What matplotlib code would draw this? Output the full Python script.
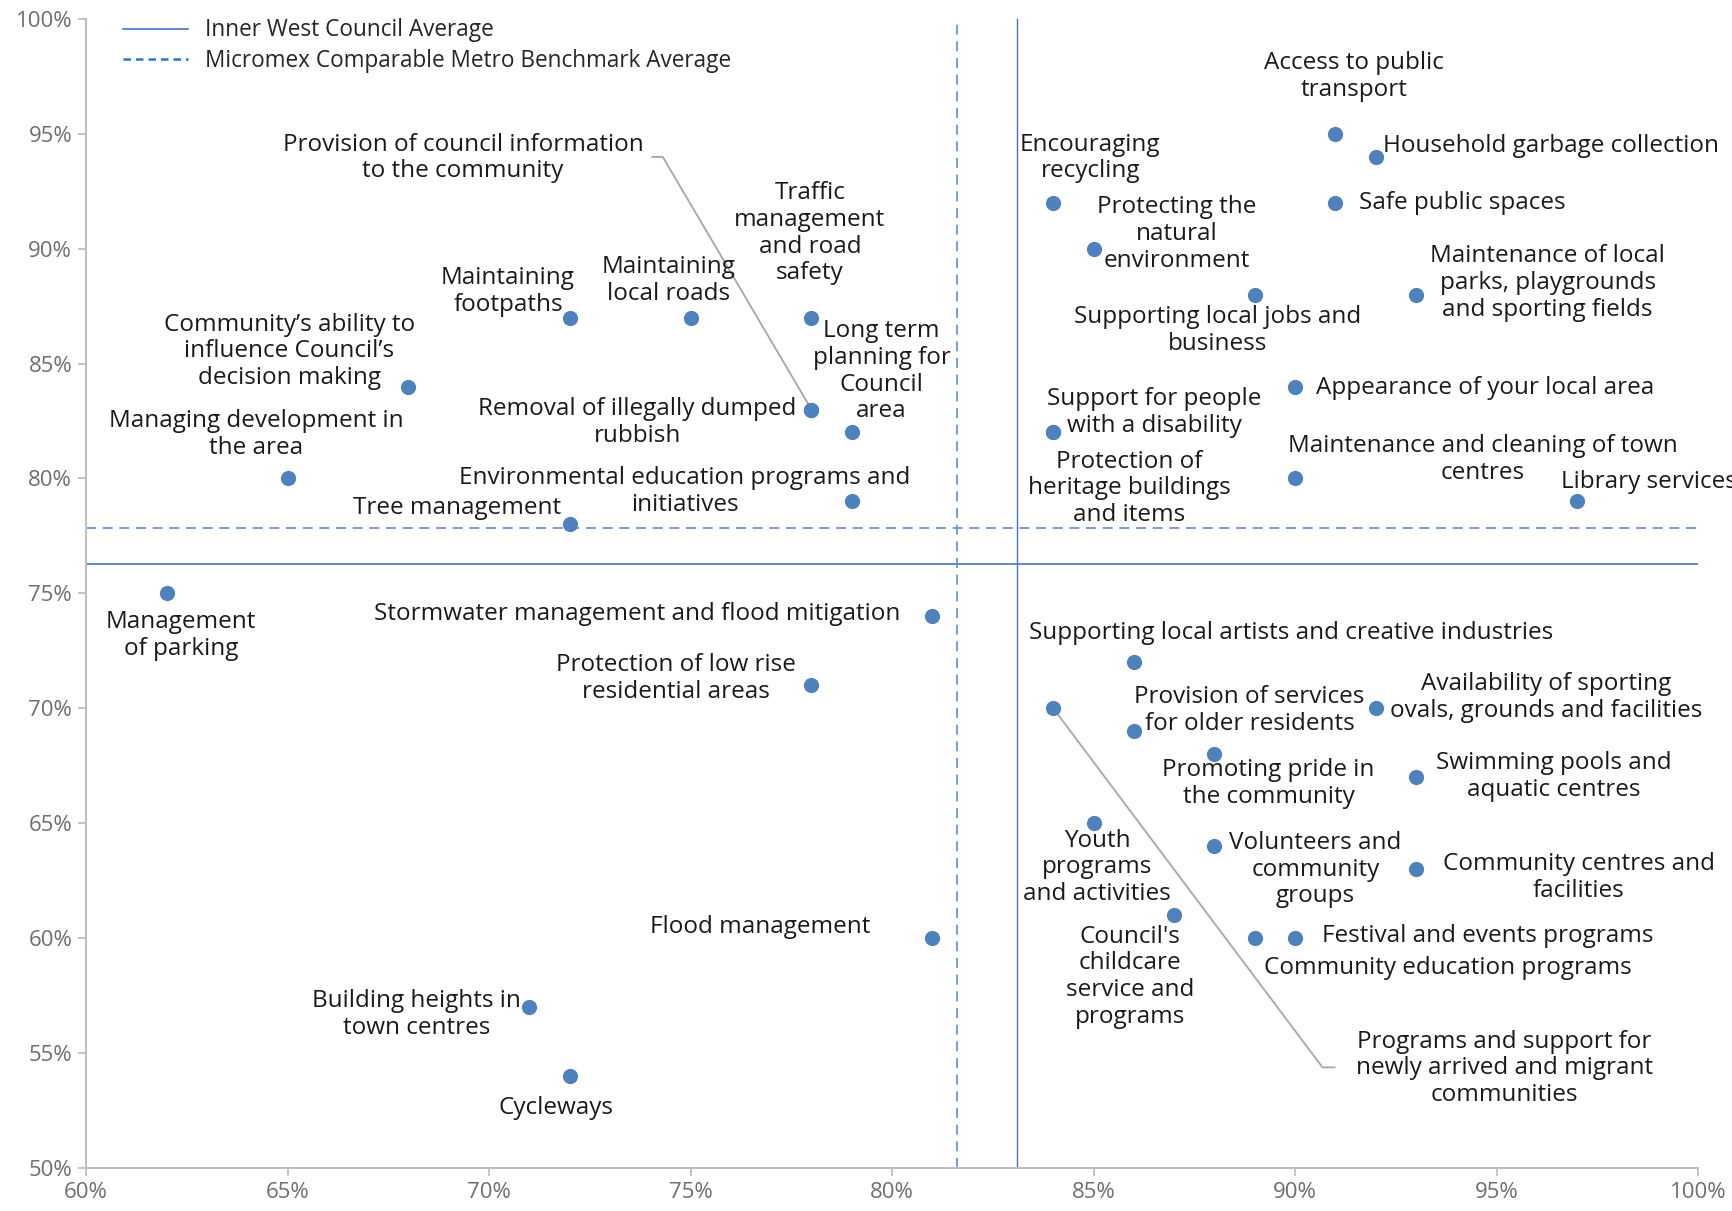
import matplotlib
matplotlib.use("Agg")
import matplotlib.pyplot as plt
from matplotlib.ticker import FuncFormatter
from matplotlib.lines import Line2D

plt.rcParams['font.family'] = ['Open Sans', 'DejaVu Sans']

# ---------------- data ----------------
services = [
    "Management of parking", "Managing development in the area",
    "Community's ability to influence Council's decision making",
    "Maintaining footpaths", "Maintaining local roads", "Traffic management and road safety",
    "Provision of council information to the community", "Removal of illegally dumped rubbish",
    "Long term planning for Council area", "Environmental education programs and initiatives",
    "Tree management", "Stormwater management and flood mitigation",
    "Protection of low rise residential areas", "Flood management",
    "Building heights in town centres", "Cycleways",
    "Encouraging recycling", "Protecting the natural environment",
    "Supporting local jobs and business", "Access to public transport",
    "Household garbage collection", "Safe public spaces",
    "Maintenance of local parks, playgrounds and sporting fields",
    "Appearance of your local area", "Support for people with a disability",
    "Protection of heritage buildings and items",
    "Maintenance and cleaning of town centres", "Library services",
    "Supporting local artists and creative industries",
    "Availability of sporting ovals, grounds and facilities",
    "Provision of services for older residents", "Promoting pride in the community",
    "Swimming pools and aquatic centres", "Youth programs and activities",
    "Volunteers and community groups", "Community centres and facilities",
    "Council's childcare service and programs", "Festival and events programs",
    "Community education programs",
    "Programs and support for newly arrived and migrant communities",
]
importance = [62, 65, 68, 72, 75, 78, 78, 78, 79, 79, 72, 81, 78, 81, 71, 72,
              84, 85, 89, 91, 92, 91, 93, 90, 84, 84, 90, 97, 86, 92, 86, 88,
              93, 85, 88, 93, 87, 90, 89, 84]
satisfaction = [75, 80, 84, 87, 87, 87, 83, 83, 82, 79, 78, 74, 71, 60, 57, 54,
                92, 90, 88, 95, 94, 92, 88, 84, 82, 82, 80, 79, 72, 70, 69, 68,
                67, 65, 64, 63, 61, 60, 60, 70]

council_avg_importance = 83.1
council_avg_satisfaction = 76.3
benchmark_avg_importance = 81.6
benchmark_avg_satisfaction = 77.85

x_ticks = [60, 65, 70, 75, 80, 85, 90, 95, 100]
y_ticks = [50, 55, 60, 65, 70, 75, 80, 85, 90, 95, 100]

# label text, position (data coords), alignment
label_text = [
    "Management\nof parking", "Managing development in\nthe area",
    "Community\u2019s ability to\ninfluence Council\u2019s\ndecision making",
    "Maintaining\nfootpaths", "Maintaining\nlocal roads", "Traffic\nmanagement\nand road\nsafety",
    "Provision of council information\nto the community", "Removal of illegally dumped\nrubbish",
    "Long term\nplanning for\nCouncil\narea", "Environmental education programs and\ninitiatives",
    "Tree management", "Stormwater management and flood mitigation",
    "Protection of low rise\nresidential areas", "Flood management",
    "Building heights in\ntown centres", "Cycleways",
    "Encouraging\nrecycling", "Protecting the\nnatural\nenvironment",
    "Supporting local jobs and\nbusiness", "Access to public\ntransport",
    "Household garbage collection", "Safe public spaces",
    "Maintenance of local\nparks, playgrounds\nand sporting fields",
    "Appearance of your local area", "Support for people\nwith a disability",
    "Protection of\nheritage buildings\nand items",
    "Maintenance and cleaning of town\ncentres", "Library services",
    "Supporting local artists and creative industries",
    "Availability of sporting\novals, grounds and facilities",
    "Provision of services\nfor older residents", "Promoting pride in\nthe community",
    "Swimming pools and\naquatic centres", "Youth\nprograms\nand activities",
    "Volunteers and\ncommunity\ngroups", "Community centres and\nfacilities",
    "Council's\nchildcare\nservice and\nprograms", "Festival and events programs",
    "Community education programs",
    "Programs and support for\nnewly arrived and migrant\ncommunities",
]
label_pos = [
    (62.36, 73.17, 'center'), (64.22, 81.92, 'center'), (65.04, 85.53, 'center'),
    (70.47, 88.13, 'center'), (74.45, 88.61, 'center'), (77.96, 90.67, 'center'),
    (69.35, 93.94, 'center'), (73.68, 82.45, 'center'), (79.74, 84.66, 'center'),
    (74.86, 79.42, 'center'), (71.80, 78.70, 'right'), (73.68, 74.09, 'center'),
    (74.64, 71.30, 'center'), (76.72, 60.48, 'center'), (68.20, 56.68, 'center'),
    (71.65, 52.60, 'center'), (84.92, 93.94, 'center'), (87.06, 90.63, 'center'),
    (88.07, 86.44, 'center'), (91.47, 97.50, 'center'), (92.19, 94.47, 'left'),
    (91.58, 91.97, 'left'), (96.27, 88.51, 'center'), (90.51, 83.94, 'left'),
    (86.51, 82.88, 'center'), (85.88, 79.57, 'center'), (94.65, 80.82, 'center'),
    (96.60, 79.86, 'left'), (89.91, 73.27, 'center'), (96.24, 70.48, 'center'),
    (88.87, 69.90, 'center'), (89.34, 66.73, 'center'), (96.41, 67.02, 'center'),
    (85.09, 63.08, 'center'), (90.51, 62.98, 'center'), (97.04, 62.64, 'center'),
    (85.91, 58.32, 'center'), (90.68, 60.10, 'left'), (93.80, 58.70, 'center'),
    (95.20, 54.33, 'center'),
]
# leader lines (label end -> point), indices into the services list
leader_idx = [6, 39]
leader_from = [[(74.05, 93.99), (74.31, 93.99)], [(90.98, 54.38), (90.68, 54.38)]]

# ---------------- plot ----------------
fig = plt.figure(figsize=(17.32, 12.11), dpi=100)
ax = fig.add_axes([0.0497, 0.0355, 0.9307, 0.949])
ax.set_xlim(60, 100)
ax.set_ylim(50, 100)

point_color = '#4F81BD'
blue_line = '#4472C4'
dash_line = '#5B8FD6'
gray_text = '#6E6E6E'

ax.axhline(council_avg_satisfaction, color=blue_line, lw=1.2, zorder=1)
ax.axvline(council_avg_importance, color=blue_line, lw=1.0, zorder=1)
ax.axhline(benchmark_avg_satisfaction, color=dash_line, lw=1.2, ls=(0, (6, 4)), zorder=1)
ax.axvline(benchmark_avg_importance, color=dash_line, lw=1.2, ls=(0, (6, 4)), zorder=1)

for i, pts in zip(leader_idx, leader_from):
    xs = [p[0] for p in pts] + [importance[i]]
    ys = [p[1] for p in pts] + [satisfaction[i]]
    ax.plot(xs, ys, color='#A6A6A6', lw=1.3, zorder=2)

ax.scatter(importance, satisfaction, s=120, color=point_color, zorder=4, linewidths=0)

for txt, (lx, ly, ha) in zip(label_text, label_pos):
    ax.text(lx, ly, txt, ha=ha, va='center', multialignment='center',
            fontsize=17.5, color='#1a1a1a', linespacing=1.15, zorder=5, clip_on=False)

ax.set_xticks(x_ticks)
ax.set_yticks(y_ticks)
ax.xaxis.set_major_formatter(FuncFormatter(lambda v, p: f"{v:.0f}%"))
ax.yaxis.set_major_formatter(FuncFormatter(lambda v, p: f"{v:.0f}%"))
for s in ['top', 'right']:
    ax.spines[s].set_visible(False)
for s in ['left', 'bottom']:
    ax.spines[s].set_color('#BFBFBF')
    ax.spines[s].set_linewidth(1.5)
ax.tick_params(axis='both', colors='#BFBFBF', labelcolor=gray_text, labelsize=16,
               length=6, width=1.3, direction='out')
ax.tick_params(axis='x', pad=4)
ax.tick_params(axis='y', pad=4)

handles = [Line2D([], [], color=blue_line, lw=1.2),
           Line2D([], [], color='#2E75D0', lw=1.8, ls=(0, (3, 2)))]
leg = ax.legend(handles, ["Inner West Council Average",
                          "Micromex Comparable Metro Benchmark Average"],
                loc='upper left', bbox_to_anchor=(0.010, 1.018), frameon=False,
                fontsize=16.3, handlelength=2.9, handletextpad=0.75, labelspacing=0.28)
for t in leg.get_texts():
    t.set_color('#262626')

fig.savefig('out.png', dpi=100)
